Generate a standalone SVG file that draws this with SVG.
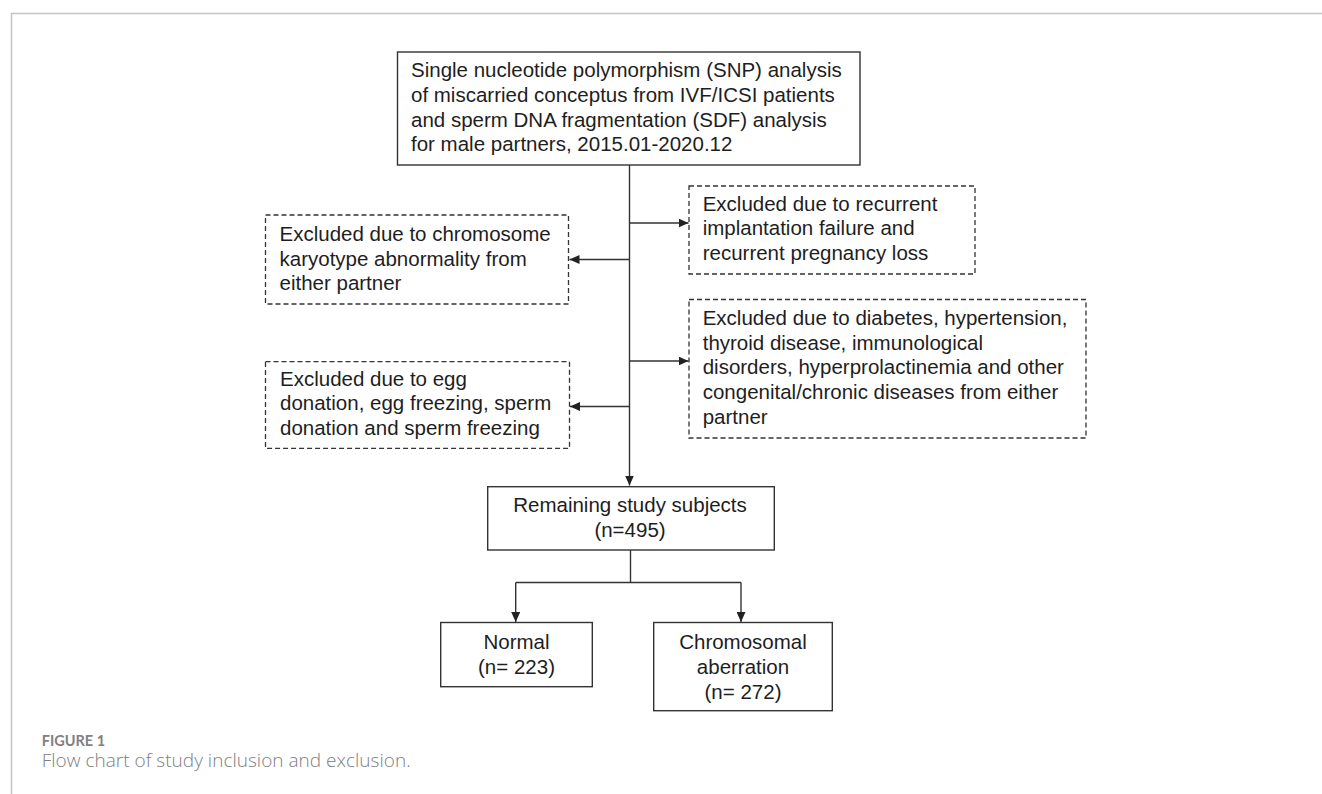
<svg xmlns="http://www.w3.org/2000/svg" width="1322" height="794" viewBox="0 0 1322 794">
<defs>
<style>
.bg{fill:#ffffff}
.frame{stroke:#c4c4c4;stroke-width:1.5;fill:none}
.box{fill:#ffffff;stroke:#333333;stroke-width:1.4}
.dbox{fill:#ffffff;stroke:#333333;stroke-width:1.3;stroke-dasharray:5 3}
.t{font-family:"Liberation Sans",Arial,sans-serif;font-size:20.5px;fill:#1e1e1e}
.c{text-anchor:middle}
.con{stroke:#333333;stroke-width:1.4;fill:none}
.cap1{font-family:Lato,"Open Sans",sans-serif;font-weight:bold;font-size:14.5px;fill:#808080}
.cap2{font-family:"Open Sans",Lato,sans-serif;font-weight:300;font-size:19px;fill:#808080}
</style>
<marker id="ah" markerUnits="userSpaceOnUse" markerWidth="10" markerHeight="9" refX="10" refY="4.5" orient="auto">
<path d="M0,0 L10,4.5 L0,9 z" fill="#222222"/>
</marker>
</defs>
<rect class="bg" x="0" y="0" width="1322" height="794"/>
<path class="frame" d="M11.5,794 V13.5 H1322"/>

<g id="connectors">
<path class="con" d="M629.5,165 V485.5" marker-end="url(#ah)"/>
<path class="con" d="M629.5,259.5 H569.5" marker-end="url(#ah)"/>
<path class="con" d="M629.5,406.5 H570" marker-end="url(#ah)"/>
<path class="con" d="M629.5,223 H688.5" marker-end="url(#ah)"/>
<path class="con" d="M629.5,361 H688.5" marker-end="url(#ah)"/>
<path class="con" d="M630.5,550 V582.5"/>
<path class="con" d="M515.7,582.5 H741"/>
<path class="con" d="M515.7,582.5 V622" marker-end="url(#ah)"/>
<path class="con" d="M741,582.5 V622" marker-end="url(#ah)"/>
</g>

<g id="start">
<rect class="box" x="397.5" y="52" width="462.5" height="113"/>
<text class="t" x="411" y="77.3">Single nucleotide polymorphism (SNP) analysis</text>
<text class="t" x="411" y="101.9">of miscarried conceptus from IVF/ICSI patients</text>
<text class="t" x="411" y="126.5">and sperm DNA fragmentation (SDF) analysis</text>
<text class="t" x="411" y="151.1">for male partners, 2015.01-2020.12</text>
</g>

<g id="excl-rif">
<rect class="dbox" x="689" y="186" width="286" height="88"/>
<text class="t" x="702.7" y="210.7">Excluded due to recurrent</text>
<text class="t" x="702.7" y="235.3">implantation failure and</text>
<text class="t" x="702.7" y="259.9">recurrent pregnancy loss</text>
</g>

<g id="excl-karyotype">
<rect class="dbox" x="265.5" y="215" width="303" height="89"/>
<text class="t" x="279.5" y="241">Excluded due to chromosome</text>
<text class="t" x="279.5" y="265.6">karyotype abnormality from</text>
<text class="t" x="279.5" y="290.2">either partner</text>
</g>

<g id="excl-disease">
<rect class="dbox" x="689" y="299.5" width="397" height="138.5"/>
<text class="t" x="702.7" y="324.8">Excluded due to diabetes, hypertension,</text>
<text class="t" x="702.7" y="349.6">thyroid disease, immunological</text>
<text class="t" x="702.7" y="374.4">disorders, hyperprolactinemia and other</text>
<text class="t" x="702.7" y="399.2">congenital/chronic diseases from either</text>
<text class="t" x="702.7" y="424">partner</text>
</g>

<g id="excl-donation">
<rect class="dbox" x="265.5" y="361.7" width="304" height="86.6"/>
<text class="t" x="280" y="385.7">Excluded due to egg</text>
<text class="t" x="280" y="410.3">donation, egg freezing, sperm</text>
<text class="t" x="280" y="434.9">donation and sperm freezing</text>
</g>

<g id="remaining">
<rect class="box" x="487.7" y="486.7" width="286.6" height="63.3"/>
<text class="t c" x="630" y="512.3">Remaining study subjects</text>
<text class="t c" x="630" y="536.9">(n=495)</text>
</g>

<g id="normal">
<rect class="box" x="440.7" y="622.5" width="151.6" height="64.2"/>
<text class="t c" x="516.5" y="649.3">Normal</text>
<text class="t c" x="516.5" y="673.9">(n= 223)</text>
</g>

<g id="aberration">
<rect class="box" x="653.7" y="622.5" width="178.6" height="88.2"/>
<text class="t c" x="743" y="649.3">Chromosomal</text>
<text class="t c" x="743" y="673.9">aberration</text>
<text class="t c" x="743" y="698.5">(n= 272)</text>
</g>

<g id="caption">
<text class="cap1" x="41.7" y="746">FIGURE 1</text>
<text class="cap2" x="41.7" y="767" textLength="369" lengthAdjust="spacing">Flow chart of study inclusion and exclusion.</text>
</g>
</svg>
